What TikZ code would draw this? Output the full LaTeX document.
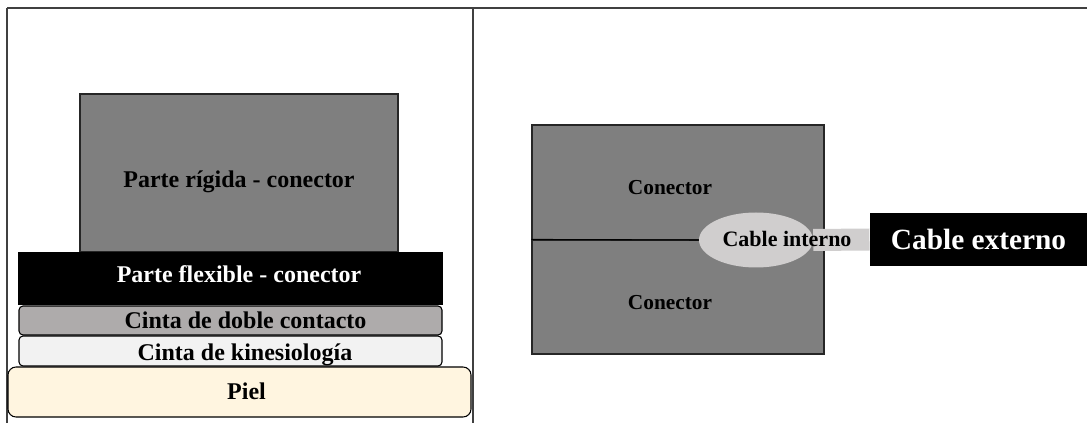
\documentclass[tikz,border=0pt]{standalone}
\usepackage{fontspec}
\setmainfont{Liberation Serif}
\usepackage{tikz}
\usetikzlibrary{positioning, shapes.geometric}

\definecolor{rigidgray}{HTML}{7F7F7F}
\definecolor{tapegray}{HTML}{AEABAB}
\definecolor{kinegray}{HTML}{F2F2F2}
\definecolor{skin}{HTML}{FFF5E0}
\definecolor{cablegray}{HTML}{D0CECE}
\definecolor{framegray}{HTML}{404040}

\tikzset{
  layer/.style={draw=black, line width=0.8pt, inner sep=0pt, text depth=0pt, font=\bfseries\fontsize{18}{20}\selectfont},
  part/.style={layer, draw=black!85, fill=rigidgray},
  band/.style={layer, rounded corners=3pt},
  dark/.style={layer, draw=none, fill=black, text=white},
  lift/.style={text height=#1},
  nudge right/.style={execute at begin node={\hspace*{#1}}},
  nudge left/.style={execute at end node={\hspace*{#1}}}
}

\begin{document}
\begin{tikzpicture}[x=0.75pt, y=-0.75pt]
        \useasboundingbox (0,0) rectangle (1087,423);

        % table frame
        \draw[framegray, line width=1.6pt] (7,8) -- (1087,8);
        \draw[framegray, line width=1.6pt] (7,8) -- (7,423);
        \draw[framegray, line width=1.6pt] (473,8) -- (473,423);

        % left: layers of the connector on the skin
        \node[part, lift=22.4pt, minimum width=238.5pt, minimum height=118.5pt] (rigid) at (239,173) {Parte rígida - conector};
        \node[dark, lift=6.7pt, nudge right=12.8pt, minimum width=318.75pt, minimum height=39.75pt] (flex) at (230.5,278.5) {Parte flexible - conector};
        \node[band, lift=11.9pt, nudge right=22.5pt, fill=tapegray, minimum width=317.25pt, minimum height=21.75pt] (tape) at (230.5,320.5) {Cinta de doble contacto};
        \node[band, lift=14.9pt, nudge right=21.75pt, fill=kinegray, minimum width=317.25pt, minimum height=22.5pt] (kine) at (230.5,351) {Cinta de kinesiología};
        \node[layer, lift=11.9pt, nudge right=10.5pt, rounded corners=6pt, fill=skin, minimum width=347.25pt, minimum height=37.5pt] (skin) at (239.5,392) {Piel};

        % right: two halves with the cable between them
        \node[part, lift=17.4pt, nudge left=12pt, font=\bfseries\fontsize{16}{18}\selectfont, minimum width=219pt, minimum height=86.25pt] (conup) at (678,182.5) {Conector};
        \node[part, lift=18.1pt, nudge left=12pt, font=\bfseries\fontsize{16}{18}\selectfont, minimum width=219pt, minimum height=85.5pt] (condown) at (678,297) {Conector};
        \node[ellipse, fill=cablegray, minimum width=85.5pt, minimum height=41.25pt, inner sep=0pt] (cin) at (756,240) {};
        \node[dark, lift=15pt, font=\bfseries\fontsize{22}{24}\selectfont, minimum width=162.75pt, minimum height=39.75pt] (cout) at (978.5,239.5) {Cable externo};

        \draw[line width=0.8pt] (condown.north west) -- (cin.west);
        \draw[cablegray, line width=16.5pt] (cin.east) -- (cout.west);
        \node[inner sep=0pt, font=\bfseries\fontsize{16.5}{18}\selectfont] (cinlabel) at (787,239) {Cable interno};
      \end{tikzpicture}
\end{document}
